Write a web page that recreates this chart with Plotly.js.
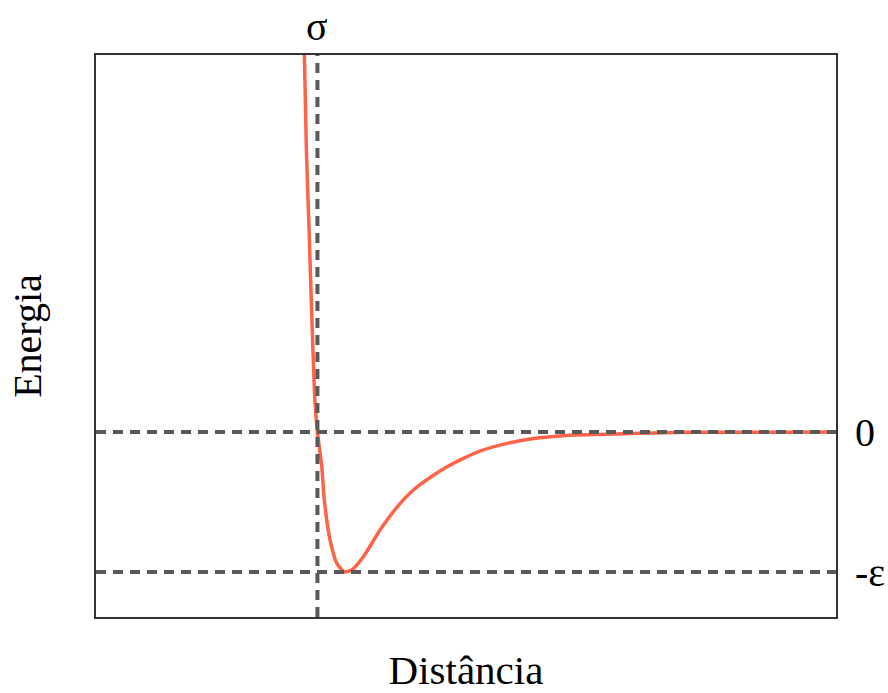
<!DOCTYPE html>
<html>
<head>
<meta charset="utf-8">
<script src="https://cdn.plot.ly/plotly-3.0.1.min.js"></script>
<style>html,body{margin:0;padding:0;background:#fff;}#chart{width:888px;height:693px;}</style>
</head>
<body>
<div id="chart"></div>
<script>
// Distance in units of sigma, energy in units of epsilon
const distance = [0.939, 0.943, 0.952, 0.965, 0.976, 0.989, 1.000, 1.019, 1.030, 1.055, 1.084, 1.116, 1.149, 1.200, 1.273, 1.345, 1.418, 1.491, 1.563, 1.636, 1.708, 1.796, 1.883, 1.970, 2.114, 2.262, 2.406, 2.611, 3.260];
const energy   = [2.80, 2.693, 2.01, 1.371, 0.80, 0.229, 0.0, -0.248, -0.486, -0.771, -0.936, -0.998, -0.986, -0.891, -0.700, -0.540, -0.414, -0.325, -0.250, -0.188, -0.136, -0.093, -0.062, -0.041, -0.021, -0.016, -0.009, -0.002, 0.0];
const sigma = 1.0;
const epsilon = 1.0;
const refLabels = {sigma: 'σ', zero: '0', eps: '-ε'};
const xTitle = 'Distância';
const yTitle = 'Energia';

const serif = 'Liberation Serif, Times New Roman, serif';
const dashColor = '#595959';
const dashStyle = '10px,7px';

const trace = {
  x: distance, y: energy, type: 'scatter', mode: 'lines',
  line: {color: '#ff6347', width: 3.5, shape: 'spline', smoothing: 0.6},
  hoverinfo: 'skip', cliponaxis: true
};

const layout = {
  width: 888, height: 693,
  margin: {l: 96, r: 52, t: 55, b: 76},
  paper_bgcolor: '#fff', plot_bgcolor: '#fff',
  showlegend: false,
  xaxis: {
    range: [0.035, 3.26], showgrid: false, zeroline: false, showticklabels: false, ticks: '',
    showline: true, mirror: true, linecolor: '#333', linewidth: 2,
    title: {text: xTitle, font: {family: serif, size: 41, color: '#000'}, standoff: 40}
  },
  yaxis: {
    range: [-1.321, 2.693], showgrid: false, zeroline: false, showticklabels: false, ticks: '',
    showline: true, mirror: true, linecolor: '#333', linewidth: 2,
    title: {text: yTitle, font: {family: serif, size: 40, color: '#000'}, standoff: 40}
  },
  shapes: [
    {type: 'line', xref: 'x', yref: 'paper', x0: sigma, x1: sigma, y0: 0, y1: 1, layer: 'above',
     line: {color: dashColor, width: 4, dash: dashStyle}},
    {type: 'line', xref: 'paper', yref: 'y', x0: 0, x1: 1, y0: 0, y1: 0, layer: 'above',
     line: {color: dashColor, width: 4, dash: dashStyle}},
    {type: 'line', xref: 'paper', yref: 'y', x0: 0, x1: 1, y0: -epsilon, y1: -epsilon, layer: 'above',
     line: {color: dashColor, width: 4, dash: dashStyle}}
  ],
  annotations: [
    {xref: 'x', yref: 'paper', x: sigma, y: 1, yshift: 29, text: refLabels.sigma, showarrow: false,
     xanchor: 'center', yanchor: 'middle', font: {family: serif, size: 40, color: '#000'}},
    {xref: 'paper', yref: 'y', x: 1, xshift: 17, y: 0, text: refLabels.zero, showarrow: false,
     xanchor: 'left', yanchor: 'middle', font: {family: serif, size: 40, color: '#000'}},
    {xref: 'paper', yref: 'y', x: 1, xshift: 17, y: -epsilon, text: refLabels.eps, showarrow: false,
     xanchor: 'left', yanchor: 'middle', font: {family: serif, size: 40, color: '#000'}}
  ]
};

Plotly.newPlot('chart', [trace], layout, {displayModeBar: false, staticPlot: true});
</script>
</body>
</html>
